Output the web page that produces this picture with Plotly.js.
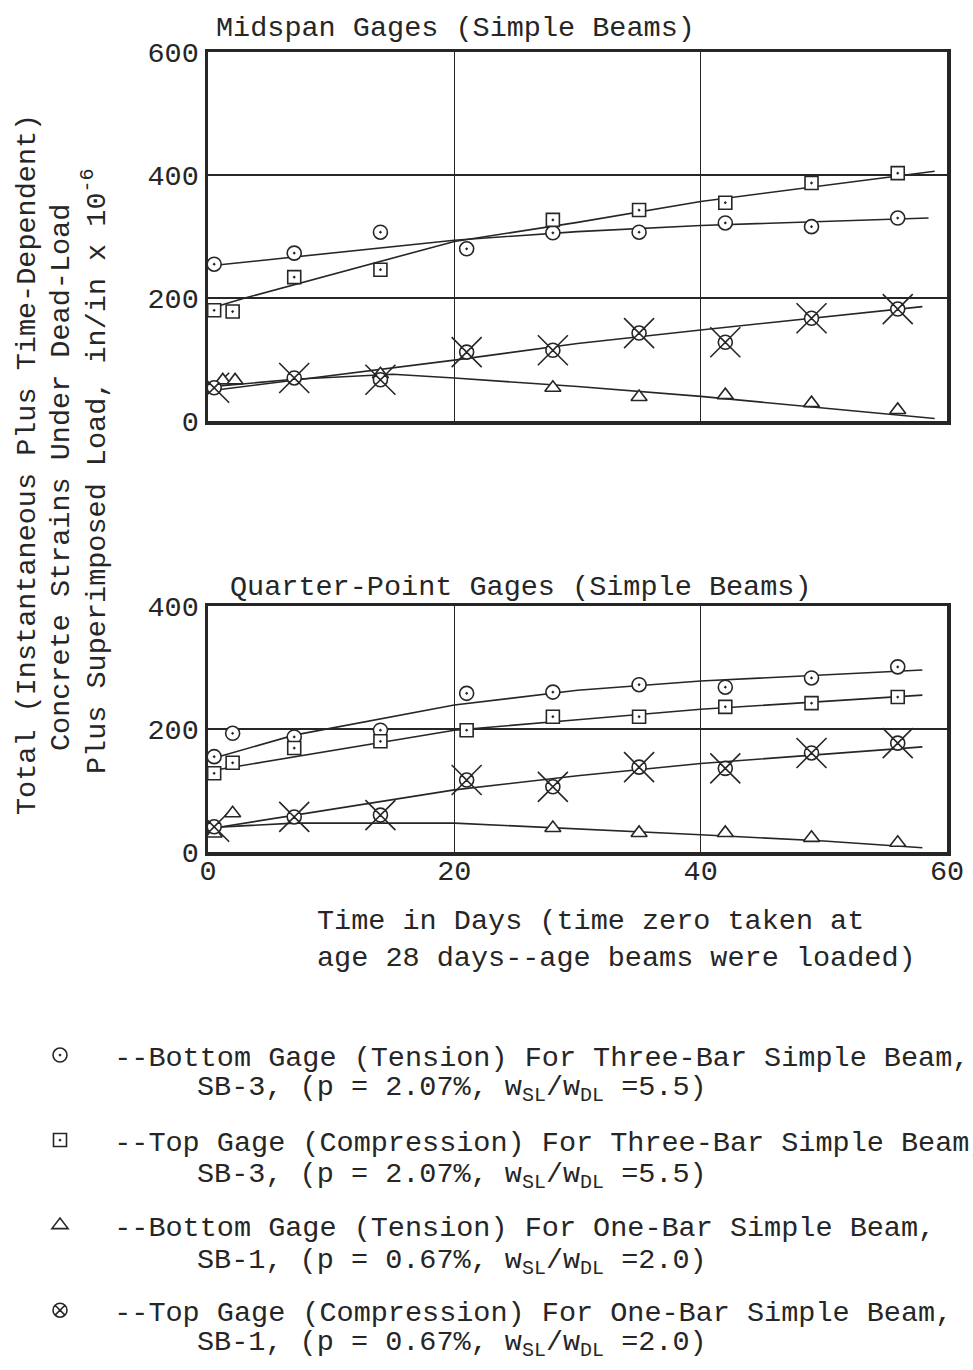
<!DOCTYPE html>
<html><head><meta charset="utf-8">
<script src="https://cdn.plot.ly/plotly-3.0.1.min.js"></script>
<style>html,body{margin:0;padding:0;background:#fff;}</style>
</head><body><div id="chart" style="width:973px;height:1370px;"></div>
<script>
// ---------- DATA ----------
// Midspan gages
const midCircDays = [0.5, 7, 14, 21, 28, 35, 42, 49, 56];
const midCircVals = [255, 273, 307, 280, 306, 307, 322, 316, 330];
const midSqDays   = [0.5, 2, 7, 14, 28, 35, 42, 49, 56];
const midSqVals   = [180, 178, 234, 246, 327, 343, 355, 387, 403];
const midTriDays  = [1.2, 2.2, 14, 28, 35, 42, 49, 56];
const midTriVals  = [66, 66, 76, 54, 39, 42, 29, 18];
const midXcDays   = [0.5, 7, 14, 21, 28, 35, 42, 49, 56];
const midXcVals   = [54, 70, 67, 112, 115, 143, 128, 167, 182];
// Midspan fitted curves
const midCircFitDays = [0, 20, 30, 40, 58.5];
const midCircFitVals = [252, 294, 308, 318, 330];
const midSqFitDays   = [0.5, 3, 20, 30, 40, 59];
const midSqFitVals   = [185, 200, 292, 323, 357, 406];
const midTriFitDays  = [0.5, 7, 15, 20, 30, 40, 59];
const midTriFitVals  = [56, 68, 76, 70, 56, 40, 4];
const midXcFitDays   = [0.5, 20, 30, 40, 58];
const midXcFitVals   = [50, 99, 126, 148, 186];
// Quarter-point gages
const qCircDays = [0.5, 2, 7, 14, 21, 28, 35, 42, 49, 56];
const qCircVals = [155, 193, 187, 198, 258, 260, 272, 268, 283, 301];
const qSqDays   = [0.5, 2, 7, 14, 21, 28, 35, 42, 49, 56];
const qSqVals   = [128, 145, 169, 180, 198, 220, 220, 236, 242, 252];
const qTriDays  = [0.5, 2, 28, 35, 42, 49, 56];
const qTriVals  = [30, 63, 39, 31, 31, 23, 15];
const qXcDays   = [0.5, 7, 14, 21, 28, 35, 42, 49, 56];
const qXcVals   = [41, 57, 60, 117, 106, 138, 136, 161, 177];
// Quarter-point fitted curves
const qCircFitDays = [0.5, 7, 20, 30, 40, 58];
const qCircFitVals = [153, 190, 239, 263, 278, 296];
const qSqFitDays   = [0.5, 20, 30, 40, 58];
const qSqFitVals   = [133, 198, 215, 232, 255];
const qTriFitDays  = [0.5, 7, 20, 30, 40, 50, 58];
const qTriFitVals  = [40, 47, 47, 38, 28, 18, 7];
const qXcFitDays   = [0.5, 20, 30, 40, 58];
const qXcFitVals   = [39, 101, 124, 144, 171];

const xTicks = [0, 20, 40, 60];
const xTickText = ['0', '20', '40', '60'];
const yTicksTop = [0, 200, 400, 600];
const yTicksBot = [0, 200, 400];

const legendFirst = [
  '\u00a0\u00a0--Bottom Gage (Tension) For Three-Bar Simple Beam,',
  '\u00a0\u00a0--Top Gage (Compression) For Three-Bar Simple Beam,',
  '\u00a0\u00a0--Bottom Gage (Tension) For One-Bar Simple Beam,',
  '\u00a0\u00a0--Top Gage (Compression) For One-Bar Simple Beam,'
];
const legendSecond = [
  'SB-3, (p = 2.07%, w<sub>SL</sub>/w<sub>DL</sub> =5.5)',
  'SB-3, (p = 2.07%, w<sub>SL</sub>/w<sub>DL</sub> =5.5)',
  'SB-1, (p = 0.67%, w<sub>SL</sub>/w<sub>DL</sub> =2.0)',
  'SB-1, (p = 0.67%, w<sub>SL</sub>/w<sub>DL</sub> =2.0)'
];

// ---------- STYLE ----------
const INK = '#262626';
const FONT = 'Liberation Mono, Courier New, monospace';
const FS = 28.5;
const W = 973, H = 1370, L = 208, R = 947;
const px = x => (x - L) / (R - L);
const py = y => (H - y) / H;

function fit(xs, ys, xa, ya, grp) {
  return {x: xs, y: ys, xaxis: xa, yaxis: ya, mode: 'lines', type: 'scatter',
    line: {color: INK, width: 1.6}, showlegend: false, hoverinfo: 'skip', legendgroup: grp};
}
function pts(xs, ys, xa, ya, sym, size, grp, name, show) {
  return {x: xs, y: ys, xaxis: xa, yaxis: ya, mode: 'markers', type: 'scatter',
    marker: {symbol: sym, size: size, color: '#ffffff', line: {color: INK, width: 1.6}},
    name: name || '', showlegend: !!show, legendgroup: grp};
}
function arms(xs, ys, xa, ya, grp) {
  return {x: xs, y: ys, xaxis: xa, yaxis: ya, mode: 'markers', type: 'scatter',
    marker: {symbol: 'x-thin-open', size: 30, color: INK, line: {color: INK, width: 1.6}},
    showlegend: false, hoverinfo: 'skip', legendgroup: grp};
}

const traces = [
  fit(midCircFitDays, midCircFitVals, 'x', 'y', 'a'),
  fit(midSqFitDays, midSqFitVals, 'x', 'y', 'b'),
  fit(midTriFitDays, midTriFitVals, 'x', 'y', 'c'),
  fit(midXcFitDays, midXcFitVals, 'x', 'y', 'd'),
  fit(qCircFitDays, qCircFitVals, 'x2', 'y2', 'a'),
  fit(qSqFitDays, qSqFitVals, 'x2', 'y2', 'b'),
  fit(qTriFitDays, qTriFitVals, 'x2', 'y2', 'c'),
  fit(qXcFitDays, qXcFitVals, 'x2', 'y2', 'd'),
  arms(midXcDays, midXcVals, 'x', 'y', 'd'),
  arms(qXcDays, qXcVals, 'x2', 'y2', 'd'),
  pts(midCircDays, midCircVals, 'x', 'y', 'circle-dot', 14, 'a', legendFirst[0], true),
  pts(midSqDays, midSqVals, 'x', 'y', 'square-dot', 13, 'b', legendFirst[1], true),
  pts(midTriDays, midTriVals, 'x', 'y', 'triangle-up', 14, 'c', legendFirst[2], true),
  pts(midXcDays, midXcVals, 'x', 'y', 'circle-x', 14, 'd', legendFirst[3], true),
  pts(qCircDays, qCircVals, 'x2', 'y2', 'circle-dot', 14, 'a'),
  pts(qSqDays, qSqVals, 'x2', 'y2', 'square-dot', 13, 'b'),
  pts(qTriDays, qTriVals, 'x2', 'y2', 'triangle-up', 14, 'c'),
  pts(qXcDays, qXcVals, 'x2', 'y2', 'circle-x', 14, 'd')
];

const axBase = {
  range: [0, 60], tickvals: xTicks, ticktext: xTickText, ticks: '',
  showgrid: true, gridcolor: INK, gridwidth: 1.6, zeroline: false,
  showline: true, linecolor: INK, linewidth: 3.5, mirror: true,
  fixedrange: true
};
const yBase = {
  ticks: '', showgrid: true, gridcolor: INK, gridwidth: 1.6, zeroline: false,
  showline: true, linecolor: INK, linewidth: 3.5, mirror: true, fixedrange: true,
  ticklabelstandoff: 0
};

const annText = (text, x, y, extra) => Object.assign({
  text: text, xref: 'paper', yref: 'paper', x: px(x), y: py(y),
  showarrow: false, xanchor: 'center', yanchor: 'middle',
  font: {family: FONT, size: FS, color: INK}
}, extra || {});

const annotations = [
  annText('Midspan Gages (Simple Beams)', 455, 28),
  annText('Quarter-Point Gages (Simple Beams)', 521, 587),
  annText('Time in Days (time zero taken at<br>age 28 days--age beams were loaded)', 315, 940, {xanchor: 'left', align: 'left'}),
  annText('Total (Instantaneous Plus Time-Dependent)', 28, 465, {textangle: -90}),
  annText('Concrete Strains Under Dead-Load', 62, 478, {textangle: -90}),
  annText('Plus Superimposed Load, in/in x 10<sup>-6</sup>', 95, 472, {textangle: -90}),
];
const secondY = [1089, 1176, 1262, 1344];
legendSecond.forEach((t, i) => annotations.push(annText(t, 195, secondY[i], {xanchor: 'left', align: 'left'})));

const layout = {
  width: W, height: H,
  margin: {l: L, r: W - R, t: 0, b: 0, autoexpand: false},
  paper_bgcolor: '#ffffff', plot_bgcolor: '#ffffff',
  font: {family: FONT, size: FS, color: INK},
  showlegend: true,
  legend: {x: px(40), y: py(1030), xanchor: 'left', yanchor: 'top',
    bgcolor: 'rgba(0,0,0,0)', borderwidth: 0, traceorder: 'grouped',
    tracegroupgap: 45, font: {family: FONT, size: FS, color: INK}},
  xaxis: Object.assign({}, axBase, {domain: [0, 1], anchor: 'y', showticklabels: false}),
  yaxis: Object.assign({}, yBase, {domain: [py(421), py(52)], anchor: 'x', range: [0, 600], tickvals: yTicksTop}),
  xaxis2: Object.assign({}, axBase, {domain: [0, 1], anchor: 'y2', showticklabels: true, ticklabelstandoff: -10}),
  yaxis2: Object.assign({}, yBase, {domain: [py(852), py(606)], anchor: 'x2', range: [0, 400], tickvals: yTicksBot}),
  annotations: annotations
};

Plotly.newPlot('chart', traces, layout, {staticPlot: true, displayModeBar: false});
</script>
</body></html>
